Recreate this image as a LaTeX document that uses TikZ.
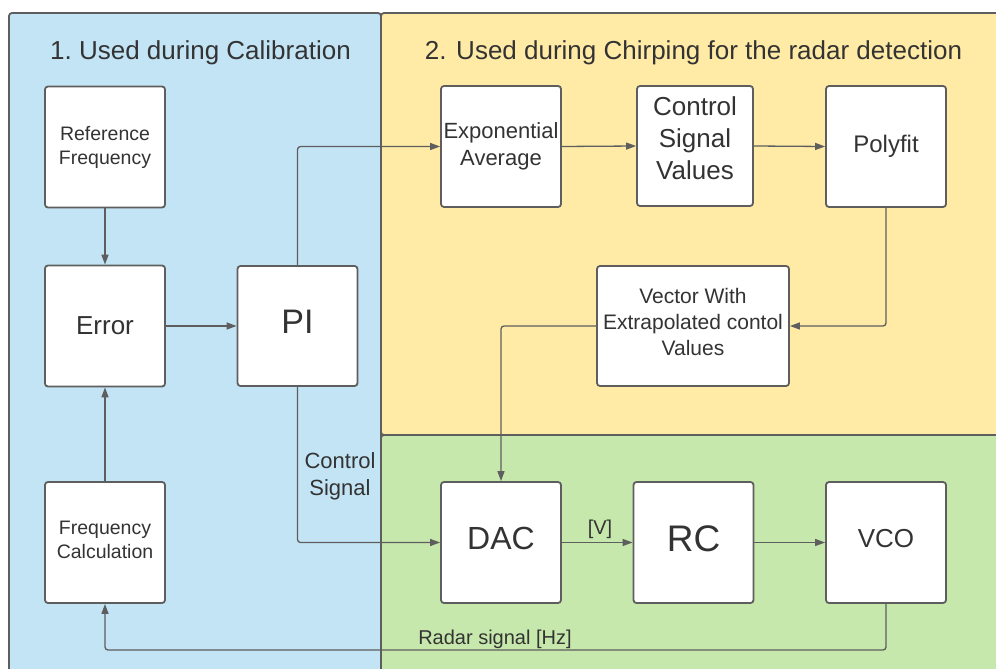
\documentclass[tikz,border=0pt]{standalone}
\usepackage{fontspec}
\setmainfont{Liberation Sans}
\usetikzlibrary{arrows.meta}

\definecolor{calblue}{RGB}{195,228,244}
\definecolor{chirpyellow}{RGB}{255,235,166}
\definecolor{hwgreen}{RGB}{199,232,172}
\definecolor{edgegray}{RGB}{94,94,94}
\definecolor{inkgray}{RGB}{51,51,51}

% font size in pt with a given baseline skip
\newcommand{\fs}[2]{\fontsize{#1}{#2}\selectfont}
% raise one text line inside a block without changing its layout
\def\liftamt{0pt}
\newcommand{\upl}[1]{\raisebox{\liftamt}[\height][\depth]{#1}}

\tikzset{
  panel/.style={draw=edgegray, line width=1.8pt, rounded corners=3pt},
  block/.style={draw=edgegray, fill=white, line width=1.8pt, rounded corners=3pt,
                inner sep=0pt, align=center, text=inkgray,
                minimum width=120pt, minimum height=121pt},
  lift/.code={\def\liftamt{#1}},
  conn/.style={draw=edgegray, line width=1.3pt, rounded corners=3pt,
               -{Triangle[length=10pt,width=7pt]}},
  lbl/.style={text=inkgray, align=center, inner sep=0pt}
}

\begin{document}
\begin{tikzpicture}[x=1pt,y=-1pt]
  \useasboundingbox (0,0) rectangle (996,669);
  \clip (0,0) rectangle (996,669);
  \fill[white] (0,0) rectangle (996,669);

  % background panels
  \draw[panel, fill=calblue] (9,13) rectangle (381,700);
  \draw[panel, fill=chirpyellow] (381,13) rectangle (1010,435);
  \draw[panel, fill=hwgreen] (381,435) rectangle (1010,700);

  % panel titles
  \node[lbl, font=\fs{26}{31}] (t1) at (200.5,52.5) {1.~Used during Calibration};
  \node[lbl, font=\fs{26}{31}] (t2) at (693.5,52.5) {2. Used during Chirping for the radar detection};

  % calibration blocks
  \node[block, font=\fs{19.5}{24}] (ref) at (105,147) {Reference\\Frequency};
  \node[block, font=\fs{26}{31}] (err) at (105,326) {Error};
  \node[block, font=\fs{19.5}{24}, lift=3pt] (fcalc) at (105,542.5) {\upl{Frequency}\\\upl{Calculation}};
  \node[block, font=\fs{34}{40}, minimum height=120pt, lift=4pt] (pi) at (297.5,326) {\upl{PI}};

  % chirping blocks
  \node[block, font=\fs{22}{27}] (expo) at (501,146.5) {Exponential\\Average};
  \node[block, font=\fs{26}{32}, minimum width=116pt, minimum height=120pt, lift=8pt] (csv) at (695,146) {\upl{Control}\\\upl{Signal}\\\upl{Values}};
  \node[block, font=\fs{24}{29}] (poly) at (886,146.5) {Polyfit};
  \node[block, font=\fs{21}{26}, minimum width=192pt, minimum height=120pt, lift=4pt] (vec) at (693,326) {\upl{Vector With}\\\upl{Extrapolated contol}\\\upl{Values}};

  % hardware blocks
  \node[block, font=\fs{32}{38}, lift=4pt] (dac) at (501,542.5) {\upl{DAC}};
  \node[block, font=\fs{37}{44}, lift=4pt] (rc) at (693.5,542.5) {\upl{RC}};
  \node[block, font=\fs{26}{31}, lift=4pt] (vco) at (886,542.5) {\upl{VCO}};

  % connectors
  \draw[conn] (ref.south) -- (err.north);
  \draw[conn] (fcalc.north) -- (err.south);
  \draw[conn] (err.east) -- (pi.west);
  \draw[conn] (pi.north) |- (expo.west);
  \draw[conn] (expo.east) -- (csv.west);
  \draw[conn] (csv.east) -- (poly.west);
  \draw[conn] (poly.south) |- (vec.east);
  \draw[conn] (vec.west) -| (dac.north);
  \draw[conn] (pi.south) |- (dac.west);
  \draw[conn] (dac.east) -- (rc.west);
  \draw[conn] (rc.east) -- (vco.west);
  \coordinate (radarturn) at (886,650);
  \draw[conn] (vco.south) -- (radarturn) -| (fcalc.south);

  % connector labels
  \node[lbl, font=\fs{22}{27}] (cslbl) at (340,476.5) {Control\\Signal};
  \node[lbl, font=\fs{20}{24}] (vlbl) at (600,529) {[V]};
  \node[lbl, font=\fs{20}{24}] (hzlbl) at (495,639) {Radar signal [Hz]};
\end{tikzpicture}
\end{document}
